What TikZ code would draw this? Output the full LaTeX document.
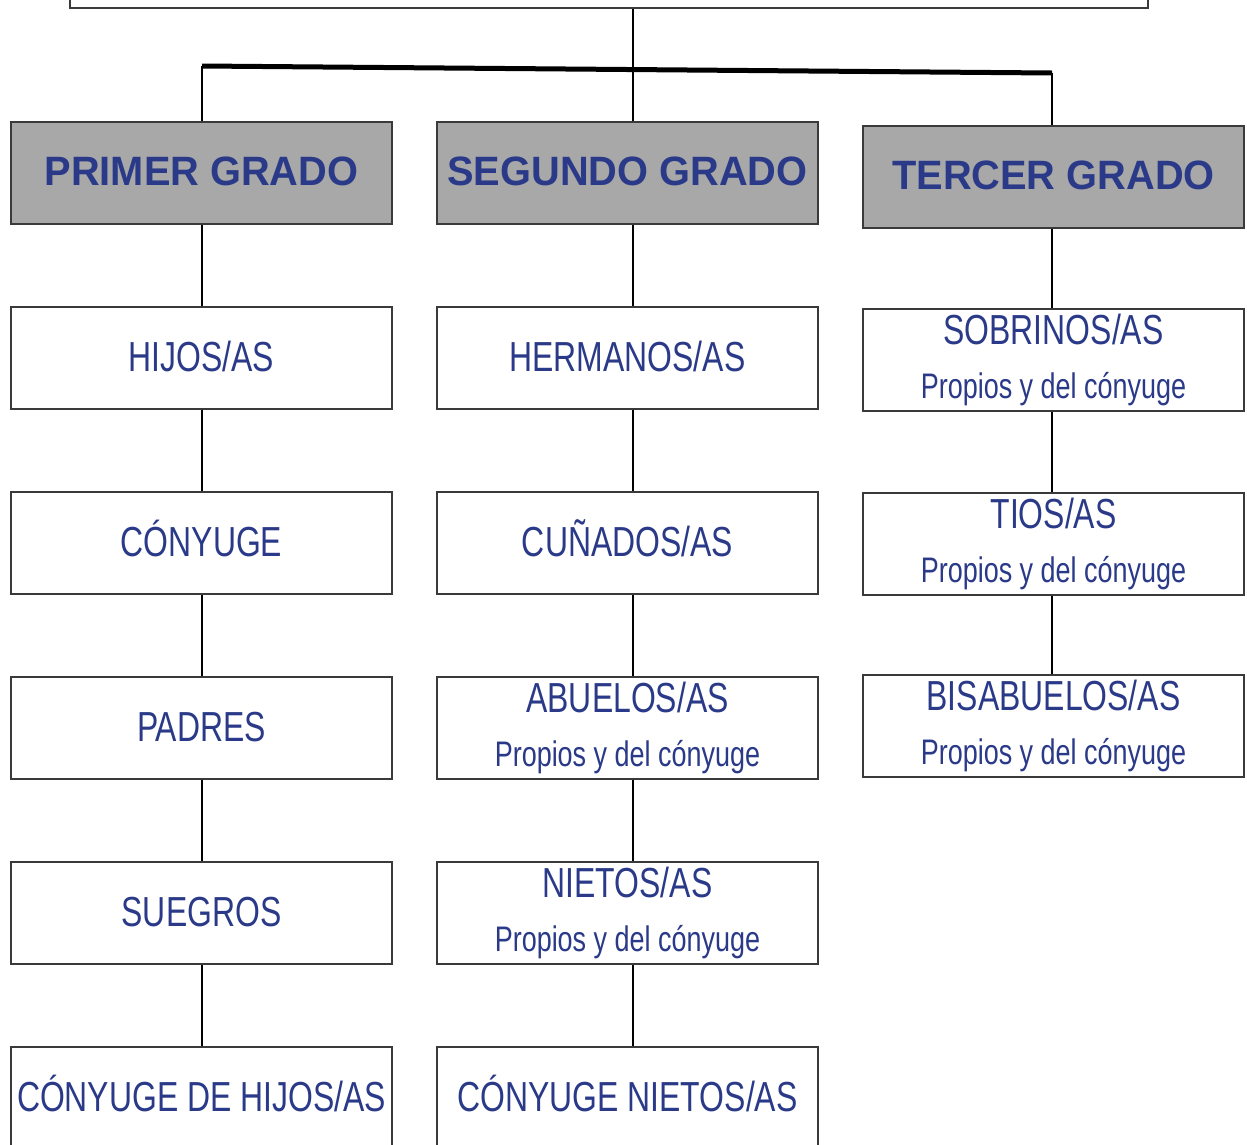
\documentclass[tikz,border=0pt]{standalone}
\usepackage{fontspec}
\setmainfont{Liberation Sans}
\newfontfamily\condfont[FakeStretch=0.76]{Liberation Sans}
\newfontfamily\headfont[FakeStretch=0.97]{Liberation Sans}
\usepackage{tikz}
\definecolor{navytext}{HTML}{2A3A88}
\definecolor{headgray}{HTML}{A8A8A8}
\definecolor{boxline}{HTML}{3A3A3A}

\begin{document}
\begin{tikzpicture}[
            x=1pt, y=-1pt,
            box/.style={draw=boxline, line width=1.3, fill=white, minimum width=381, minimum height=102,
                        inner sep=0, align=center, text=navytext,
                        font=\condfont\fontsize{42}{54}\selectfont},
            single/.style={box, text height=26, text depth=0},
            head/.style={box, fill=headgray, text height=24, text depth=0,
                         font=\headfont\bfseries\fontsize{41}{50}\selectfont},
            link/.style={line width=2},
            ]
            \def\sub#1{{\fontsize{35.5}{54}\selectfont #1}}
            \def\xa{201.5}
            \def\xb{627.5}
            \def\xc{1053.5}

            \useasboundingbox (0,0) rectangle (1247,1144);
            \clip (0,0) rectangle (1247,1144);

            \node[box, minimum width=1078, minimum height=80] (top) at (609,-32) {};

            \node[head] (h1) at (\xa,173) {PRIMER GRADO};
            \node[head] (h2) at (\xb,173) {SEGUNDO GRADO};
            \node[head] (h3) at (\xc,177) {TERCER GRADO};

            \node[single] (a1) at (\xa,358) {HIJOS/AS};
            \node[single] (a2) at (\xa,543) {CÓNYUGE};
            \node[single] (a3) at (\xa,728) {PADRES};
            \node[single] (a4) at (\xa,913) {SUEGROS};
            \node[single] (a5) at (\xa,1098) {CÓNYUGE DE HIJOS/AS};

            \node[single] (b1) at (\xb,358) {HERMANOS/AS};
            \node[single] (b2) at (\xb,543) {CUÑADOS/AS};
            \node[box] (b3) at (\xb,728) {ABUELOS/AS\\\sub{Propios y del cónyuge}};
            \node[box] (b4) at (\xb,913) {NIETOS/AS\\\sub{Propios y del cónyuge}};
            \node[single] (b5) at (\xb,1098) {CÓNYUGE NIETOS/AS};

            \node[box] (c1) at (\xc,360) {SOBRINOS/AS\\\sub{Propios y del cónyuge}};
            \node[box] (c2) at (\xc,544) {TIOS/AS\\\sub{Propios y del cónyuge}};
            \node[box] (c3) at (\xc,726) {BISABUELOS/AS\\\sub{Propios y del cónyuge}};

            \coordinate (bl) at (202,66);
            \coordinate (br) at (1052,73);

            \draw[line width=5] (bl) -- (br);
            \draw[link] (bl) -- (bl |- h1.north);
            \draw[link] (br) -- (br |- h3.north);
            \draw[link] ([xshift=5.5]h2.north) -- ([xshift=5.5]h2.north |- top.south);

            \draw[link] (h1) -- (a1);
            \draw[link] (a1) -- (a2);
            \draw[link] (a2) -- (a3);
            \draw[link] (a3) -- (a4);
            \draw[link] (a4) -- (a5);
            \draw[link] ([xshift=5.5]h2.south) -- ([xshift=5.5]b1.north);
            \draw[link] ([xshift=5.5]b1.south) -- ([xshift=5.5]b2.north);
            \draw[link] ([xshift=5.5]b2.south) -- ([xshift=5.5]b3.north);
            \draw[link] ([xshift=5.5]b3.south) -- ([xshift=5.5]b4.north);
            \draw[link] ([xshift=5.5]b4.south) -- ([xshift=5.5]b5.north);
            \draw[link] ([xshift=-1.5]h3.south) -- ([xshift=-1.5]c1.north);
            \draw[link] ([xshift=-1.5]c1.south) -- ([xshift=-1.5]c2.north);
            \draw[link] ([xshift=-1.5]c2.south) -- ([xshift=-1.5]c3.north);
        \end{tikzpicture}
\end{document}
